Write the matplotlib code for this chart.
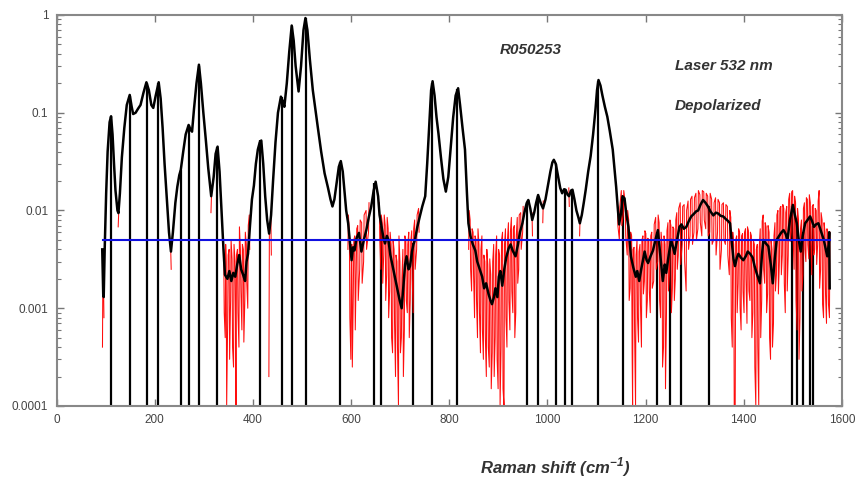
import matplotlib
matplotlib.use("Agg")
import matplotlib.pyplot as plt
import numpy as np
from matplotlib.ticker import LogLocator, NullFormatter, FixedLocator

plt.rcParams['font.family'] = ['Liberation Sans Narrow', 'Liberation Sans', 'DejaVu Sans']
plt.rcParams['mathtext.fontset'] = 'custom'
plt.rcParams['mathtext.bf'] = 'Liberation Sans:bold:italic'
plt.rcParams['mathtext.rm'] = 'Liberation Sans:bold:italic'

# smoothed spectrum (black)
spec_x = [93, 95, 96, 98, 101, 104, 108, 111, 114, 117, 120, 124, 126, 129, 133, 138, 143, 149, 153, 156,
          161, 166, 171, 177, 183, 188, 193, 197, 202, 208, 212, 216, 220, 225, 229, 233, 237, 242, 246, 250,
          253, 258, 263, 269, 273, 276, 280, 285, 290, 294, 299, 304, 309, 315, 320, 324, 328, 332, 336, 340,
          343, 348, 352, 356, 360, 364, 368, 372, 376, 380, 384, 387, 390, 394, 398, 402, 406, 410, 414, 417,
          421, 425, 429, 433, 437, 441, 446, 451, 457, 461, 464, 469, 474, 479, 483, 487, 493, 498, 503, 507,
          511, 516, 522, 527, 532, 539, 546, 553, 558, 562, 566, 571, 575, 579, 583, 587, 590, 594, 598, 601,
          604, 607, 611, 616, 621, 626, 631, 636, 641, 646, 650, 655, 658, 662, 666, 669, 673, 676, 680, 684,
          689, 694, 699, 703, 707, 710, 713, 717, 720, 724, 727, 730, 735, 740, 745, 751, 755, 760, 763, 766,
          770, 774, 778, 783, 788, 793, 798, 803, 808, 813, 818, 822, 827, 832, 836, 839, 843, 848, 853, 857,
          862, 867, 871, 875, 880, 884, 887, 891, 894, 898, 901, 904, 908, 912, 916, 921, 925, 929, 935, 940,
          944, 949, 953, 955, 958, 961, 965, 969, 973, 977, 981, 986, 991, 996, 1001, 1006, 1010, 1013, 1017, 1022,
          1026, 1030, 1034, 1037, 1041, 1044, 1048, 1051, 1055, 1059, 1063, 1066, 1070, 1074, 1078, 1083, 1088, 1093, 1098, 1101,
          1104, 1108, 1112, 1117, 1122, 1127, 1133, 1137, 1140, 1143, 1146, 1150, 1153, 1157, 1161, 1165, 1170, 1175, 1180, 1183,
          1187, 1191, 1195, 1198, 1202, 1205, 1210, 1215, 1220, 1225, 1230, 1235, 1239, 1242, 1247, 1252, 1256, 1259, 1264, 1269,
          1273, 1278, 1283, 1288, 1293, 1298, 1303, 1307, 1312, 1317, 1322, 1327, 1332, 1338, 1343, 1348, 1353, 1358, 1363, 1368,
          1372, 1376, 1379, 1382, 1386, 1389, 1394, 1399, 1404, 1408, 1413, 1418, 1422, 1426, 1430, 1433, 1437, 1440, 1445, 1450,
          1455, 1459, 1463, 1467, 1472, 1477, 1481, 1485, 1489, 1494, 1500, 1504, 1508, 1512, 1516, 1520, 1525, 1530, 1535, 1539,
          1543, 1547, 1552, 1557, 1563, 1567, 1570, 1573, 1574, 1575]
spec_y = [0.004, 0.0014, 0.0013, 0.004, 0.015, 0.04, 0.08, 0.092, 0.06, 0.03, 0.016, 0.01, 0.0094, 0.015, 0.035, 0.07, 0.12, 0.152, 0.115, 0.097,
          0.1, 0.11, 0.12, 0.16, 0.205, 0.17, 0.12, 0.112, 0.15, 0.205, 0.14, 0.07, 0.03, 0.012, 0.006, 0.0038, 0.006, 0.012, 0.0175, 0.023,
          0.026, 0.04, 0.06, 0.075, 0.067, 0.064, 0.11, 0.2, 0.31, 0.2, 0.1, 0.053, 0.027, 0.014, 0.022, 0.038, 0.045, 0.025, 0.01, 0.004,
          0.0022, 0.002, 0.0024, 0.0019, 0.0023, 0.0021, 0.0028, 0.0035, 0.0025, 0.0022, 0.0019, 0.003, 0.0036, 0.007, 0.013, 0.018, 0.03, 0.042, 0.05, 0.052,
          0.03, 0.014, 0.008, 0.0058, 0.009, 0.02, 0.05, 0.1, 0.146, 0.13, 0.115, 0.2, 0.42, 0.78, 0.55, 0.3, 0.165, 0.3, 0.7, 0.93,
          0.7, 0.35, 0.17, 0.11, 0.072, 0.04, 0.024, 0.017, 0.013, 0.011, 0.013, 0.02, 0.028, 0.032, 0.025, 0.015, 0.01, 0.0074, 0.0045, 0.0031,
          0.0042, 0.0039, 0.0052, 0.0059, 0.0038, 0.005, 0.0063, 0.0085, 0.011, 0.016, 0.0197, 0.014, 0.009, 0.0068, 0.0052, 0.0046, 0.0055, 0.005, 0.0035, 0.0028,
          0.0021, 0.0016, 0.0012, 0.001, 0.0018, 0.0028, 0.0034, 0.0025, 0.0027, 0.0038, 0.0045, 0.005, 0.0068, 0.0087, 0.011, 0.014, 0.03, 0.09, 0.17, 0.21,
          0.15, 0.09, 0.061, 0.035, 0.021, 0.0156, 0.022, 0.045, 0.09, 0.15, 0.178, 0.12, 0.07, 0.042, 0.015, 0.0074, 0.0055, 0.0045, 0.0039, 0.003,
          0.0025, 0.0021, 0.0016, 0.0018, 0.0014, 0.0012, 0.0011, 0.0013, 0.0016, 0.0013, 0.0021, 0.0024, 0.0017, 0.0025, 0.0033, 0.0041, 0.0045, 0.0039, 0.0034, 0.0045,
          0.006, 0.0074, 0.0095, 0.0105, 0.012, 0.0128, 0.0105, 0.008, 0.0095, 0.012, 0.0144, 0.012, 0.0105, 0.013, 0.018, 0.025, 0.031, 0.033, 0.03, 0.022,
          0.017, 0.015, 0.0165, 0.0163, 0.0145, 0.014, 0.016, 0.0163, 0.013, 0.01, 0.0085, 0.0074, 0.009, 0.012, 0.0163, 0.025, 0.036, 0.06, 0.11, 0.17,
          0.216, 0.19, 0.15, 0.115, 0.091, 0.065, 0.042, 0.025, 0.0174, 0.011, 0.0072, 0.0095, 0.014, 0.0133, 0.009, 0.0068, 0.0034, 0.0026, 0.0021, 0.0024,
          0.0019, 0.0025, 0.0032, 0.0038, 0.0031, 0.0029, 0.0034, 0.0039, 0.005, 0.0063, 0.0035, 0.0019, 0.0028, 0.0023, 0.0035, 0.005, 0.0042, 0.0036, 0.005, 0.0068,
          0.0072, 0.0065, 0.0068, 0.0078, 0.0087, 0.0092, 0.0098, 0.01, 0.0115, 0.0128, 0.012, 0.011, 0.0098, 0.0089, 0.0095, 0.0093, 0.0088, 0.0087, 0.0082, 0.0078,
          0.0074, 0.0045, 0.0032, 0.0027, 0.0033, 0.0036, 0.0033, 0.0031, 0.0034, 0.0038, 0.0036, 0.0033, 0.0027, 0.0023, 0.002, 0.0018, 0.0035, 0.005, 0.0046, 0.0043,
          0.0028, 0.0018, 0.0032, 0.005, 0.0055, 0.006, 0.0063, 0.0058, 0.005, 0.008, 0.0114, 0.009, 0.0074, 0.005, 0.0038, 0.0055, 0.0074, 0.008, 0.0087, 0.0078,
          0.0068, 0.0072, 0.0074, 0.0062, 0.005, 0.004, 0.0034, 0.0045, 0.006, 0.0016]

# raw data noise (red): position, lowest and highest value of each swing
noise_x = [94, 96, 126, 233, 315,
           341, 344, 346, 349, 352, 355, 358, 361, 364, 366, 369, 372, 375, 378, 381, 384, 387, 390, 393,
           433, 437,
           594, 597, 600, 602, 605, 608, 611, 614, 618, 622, 626, 631, 636,
           658, 661, 664, 667, 670, 673, 676, 679, 682, 685, 688, 691, 694, 697, 700, 703, 706, 709, 712, 715,
           718, 721, 724, 727, 730, 734, 738,
           840, 843, 846, 849, 852, 855, 858, 861, 864, 867, 870, 873, 876, 879, 882, 885, 888, 891, 894, 897,
           900, 903, 906, 909, 912, 915, 918, 921, 924, 927, 930, 933, 936, 939, 942, 946, 950, 969, 991, 1044, 1066,
           1143, 1147, 1151, 1155, 1159, 1163, 1166, 1169, 1172, 1174, 1177, 1180, 1183, 1186, 1189, 1192, 1195, 1198,
           1201, 1204, 1207, 1210, 1213, 1217, 1221, 1225, 1228, 1231, 1234, 1237, 1240, 1243, 1246, 1249, 1252, 1255,
           1258, 1261, 1264, 1267, 1271, 1275, 1279, 1283, 1287, 1291, 1295, 1299, 1303, 1307, 1311, 1315, 1319, 1323,
           1327, 1331, 1335, 1339, 1343, 1347, 1351, 1355, 1359, 1363, 1367, 1371, 1374, 1377, 1380, 1383, 1386, 1389,
           1392, 1395, 1398, 1401, 1404, 1407, 1410, 1413, 1416, 1419, 1422, 1425, 1428, 1431, 1434, 1437, 1440, 1443,
           1446, 1449, 1452, 1455, 1458, 1461, 1464, 1467, 1470, 1473, 1476, 1479, 1482, 1485, 1488, 1491, 1494, 1497,
           1500, 1503, 1506, 1509, 1512, 1515, 1518, 1521, 1524, 1527, 1530, 1533, 1536, 1539, 1542, 1545, 1548, 1551,
           1554, 1557, 1560, 1563, 1566, 1569, 1572, 1575]
noise_lo = [0.0004, 0.0008, 0.0068, 0.0025, 0.0095,
            0.0009, 0.0005, 0.0001, 0.0007, 0.0003, 0.0012, 0.0004, 0.00025, 0.0008, 0.0001, 0.0009, 0.0004, 0.0015, 0.0006, 0.00045, 0.0012, 0.0018, 0.001, 0.004,
            0.0002, 0.0035,
            0.004, 0.0008, 0.0003, 0.00025, 0.0014, 0.0006, 0.0025, 0.0012, 0.0025, 0.0018, 0.003, 0.004, 0.006,
            0.005, 0.0025, 0.0018, 0.0035, 0.0012, 0.0022, 0.0008, 0.0015, 0.0005, 0.00035, 0.0007, 0.0002, 0.0004, 0.0001, 0.00035, 0.0005, 0.0002, 0.0006, 0.0012, 0.0009,
            0.0005, 0.0012, 0.002, 0.0009, 0.0025, 0.004, 0.006,
            0.004, 0.0025, 0.0015, 0.0022, 0.0008, 0.0012, 0.0005, 0.0009, 0.00035, 0.0006, 0.0003, 0.0005, 0.0002, 0.0004, 0.00025, 0.00015, 0.00035, 0.0002, 0.0005, 0.0003,
            0.00015, 0.0001, 0.0004, 0.00015, 0.0001, 0.0008, 0.0004, 0.0012, 0.0006, 0.0015, 0.0009, 0.0005, 0.0009, 0.0018, 0.0025, 0.004, 0.006, 0.0055, 0.0075, 0.011, 0.0055,
            0.007, 0.005, 0.007, 0.009, 0.0055, 0.0035, 0.0012, 0.0016, 0.00035, 0.0001, 0.0006, 0.0001, 0.0008, 0.00045, 0.0011, 0.0004, 0.0014, 0.0019,
            0.0008, 0.0012, 0.0015, 0.0009, 0.0016, 0.0019, 0.0025, 0.003, 0.0012, 0.0008, 0.00025, 0.0004, 0.00015, 0.0009, 0.0015, 0.0022, 0.0009, 0.0016,
            0.0012, 0.002, 0.0025, 0.0035, 0.0028, 0.0045, 0.003, 0.0015, 0.004, 0.0055, 0.0045, 0.006, 0.005, 0.0065, 0.0075, 0.0055, 0.008, 0.0065,
            0.0055, 0.006, 0.0045, 0.005, 0.0035, 0.006, 0.0025, 0.004, 0.005, 0.0045, 0.0035, 0.0022, 0.0008, 0.0004, 0.0001, 0.0001, 0.0009, 0.0018,
            0.001, 0.0006, 0.0015, 0.0009, 0.002, 0.0007, 0.0015, 0.0012, 0.0005, 0.0009, 0.00025, 0.0001, 0.0004, 0.0001, 0.0005, 0.0012, 0.0025, 0.0018,
            0.0009, 0.0014, 0.0005, 0.0003, 0.0004, 0.0007, 0.0015, 0.0022, 0.0014, 0.003, 0.0022, 0.0035, 0.0018, 0.0009, 0.0015, 0.0035, 0.0048, 0.006,
            0.0055, 0.0025, 0.0012, 0.0006, 0.0003, 0.0008, 0.0015, 0.0022, 0.004, 0.003, 0.0045, 0.0032, 0.0048, 0.0022, 0.0035, 0.004, 0.0028, 0.0045,
            0.0016, 0.0025, 0.0011, 0.0008, 0.0014, 0.0007, 0.0011, 0.0008]
noise_hi = [0.004, 0.002, 0.0094, 0.004, 0.014,
            0.004, 0.0045, 0.003, 0.0035, 0.004, 0.005, 0.0032, 0.0045, 0.003, 0.0035, 0.004, 0.0068, 0.004, 0.0045, 0.004, 0.006, 0.0045, 0.007, 0.009,
            0.006, 0.009,
            0.009, 0.006, 0.004, 0.0045, 0.005, 0.0055, 0.0065, 0.007, 0.008, 0.0075, 0.009, 0.01, 0.012,
            0.012, 0.009, 0.0075, 0.009, 0.007, 0.0085, 0.0065, 0.006, 0.0045, 0.005, 0.004, 0.0035, 0.003, 0.0055, 0.003, 0.002, 0.004, 0.0055, 0.005, 0.0045,
            0.006, 0.0048, 0.0062, 0.0065, 0.008, 0.009, 0.0105,
            0.01, 0.008, 0.0065, 0.006, 0.0055, 0.005, 0.0065, 0.0045, 0.004, 0.0055, 0.0035, 0.003, 0.004, 0.0028, 0.0032, 0.0022, 0.003, 0.0045, 0.0035, 0.0055,
            0.004, 0.0035, 0.005, 0.006, 0.0045, 0.0065, 0.005, 0.0075, 0.006, 0.0085, 0.0065, 0.007, 0.0055, 0.0085, 0.009, 0.0095, 0.011, 0.0095, 0.0125, 0.017, 0.0085,
            0.013, 0.011, 0.016, 0.016, 0.012, 0.01, 0.008, 0.006, 0.0055, 0.004, 0.0042, 0.0035, 0.005, 0.0038, 0.0045, 0.005, 0.0055, 0.0062,
            0.0058, 0.0052, 0.005, 0.0055, 0.006, 0.0072, 0.0085, 0.009, 0.0075, 0.006, 0.0045, 0.0055, 0.0045, 0.0062, 0.0075, 0.008, 0.007, 0.0068,
            0.0065, 0.008, 0.0095, 0.0105, 0.012, 0.011, 0.0115, 0.01, 0.0125, 0.013, 0.014, 0.0135, 0.015, 0.016, 0.0145, 0.016, 0.0155, 0.015,
            0.014, 0.015, 0.013, 0.012, 0.0135, 0.013, 0.012, 0.0115, 0.012, 0.0115, 0.011, 0.01, 0.0085, 0.006, 0.0045, 0.005, 0.0055, 0.0065,
            0.006, 0.0055, 0.0058, 0.006, 0.0065, 0.0068, 0.0062, 0.006, 0.0055, 0.005, 0.0045, 0.004, 0.0045, 0.0042, 0.0065, 0.0078, 0.009, 0.0075,
            0.0068, 0.007, 0.006, 0.005, 0.004, 0.0055, 0.0075, 0.009, 0.01, 0.0105, 0.011, 0.0115, 0.0105, 0.0095, 0.011, 0.013, 0.015, 0.0155,
            0.016, 0.014, 0.012, 0.0105, 0.008, 0.0065, 0.008, 0.0105, 0.012, 0.0135, 0.013, 0.0145, 0.012, 0.011, 0.0115, 0.0105, 0.01, 0.0125,
            0.016, 0.0095, 0.008, 0.0075, 0.006, 0.0065, 0.0055, 0.006]

# peak marker lines: position and height
peak_x = [111, 149, 184, 207, 253, 269, 290, 327, 415, 459, 479, 508, 578, 647, 661, 726, 764, 816,
          958, 981, 1018, 1035, 1051, 1104, 1154, 1223, 1250, 1273, 1329, 1498, 1508, 1521, 1535, 1542]
peak_top = [0.09, 0.15, 0.2, 0.2, 0.026, 0.075, 0.3, 0.045, 0.052, 0.145, 0.78, 0.93, 0.031, 0.019, 0.007,
            0.0047, 0.2, 0.175, 0.012, 0.014, 0.03, 0.016, 0.016, 0.21, 0.013, 0.006, 0.005, 0.0068, 0.011,
            0.011, 0.007, 0.006, 0.0087, 0.007]

threshold = 0.005
threshold_range = [95, 1576]

# red raw trace: zig-zag through each swing, broken where swings are far apart
rx, ry = [], []
for i, (x, lo, hi) in enumerate(zip(noise_x, noise_lo, noise_hi)):
    if i > 0 and x - noise_x[i - 1] > 8:
        rx.append(np.nan)
        ry.append(np.nan)
    pair = (lo, hi) if i % 2 == 0 else (hi, lo)
    rx += [x - 0.5, x + 0.5]
    ry += list(pair)

fig = plt.figure(figsize=(8.56, 4.8), dpi=100)
ax = fig.add_axes([0.0661, 0.1542, 0.9175, 0.8146])

ax.vlines(peak_x, 0.0001, peak_top, color='black', linewidth=1.6, zorder=1)
ax.plot(rx, ry, color='#ff0000', linewidth=0.75, alpha=0.95, zorder=2)
ax.plot(spec_x, spec_y, color='black', linewidth=1.8, zorder=3)
ax.plot(threshold_range, [threshold, threshold], color='#1010e0', linewidth=1.5, zorder=4)

ax.set_yscale('log')
ax.set_xlim(0, 1600)
ax.set_ylim(0.0001, 1)
ax.xaxis.set_major_locator(FixedLocator([0, 200, 400, 600, 800, 1000, 1200, 1400, 1600]))
ax.set_yticks([0.0001, 0.001, 0.01, 0.1, 1])
ax.set_yticklabels(['0.0001', '0.001', '0.01', '0.1', '1'])
ax.yaxis.set_minor_locator(LogLocator(base=10, subs=range(2, 10)))
ax.yaxis.set_minor_formatter(NullFormatter())

ax.tick_params(which='major', direction='in', length=5, width=1, color='#777777',
               top=True, right=True, labelsize=8.5, labelcolor='#444444', pad=6)
ax.tick_params(which='minor', direction='in', length=3, width=0.8, color='#777777', right=True)
for s in ax.spines.values():
    s.set_color('#888888')
    s.set_linewidth(1.5)

txt = dict(fontsize=11, fontweight='bold', fontstyle='italic', color='#333333',
           family=['Liberation Sans', 'DejaVu Sans'])
fig.text(500 / 856, 1 - 50 / 480, 'R050253', ha='left', va='center', **txt)
fig.text(675 / 856, 1 - 66 / 480, 'Laser 532 nm', ha='left', va='center', **txt)
fig.text(675 / 856, 1 - 106 / 480, 'Depolarized', ha='left', va='center', **txt)
fig.text(555 / 856, 1 - 467 / 480, r'Raman shift (cm$^{\mathbf{-1}}$)', ha='center', va='center',
         fontsize=12, fontweight='bold', fontstyle='italic', color='#333333',
         family=['Liberation Sans', 'DejaVu Sans'])

fig.savefig('out.png', dpi=100)
